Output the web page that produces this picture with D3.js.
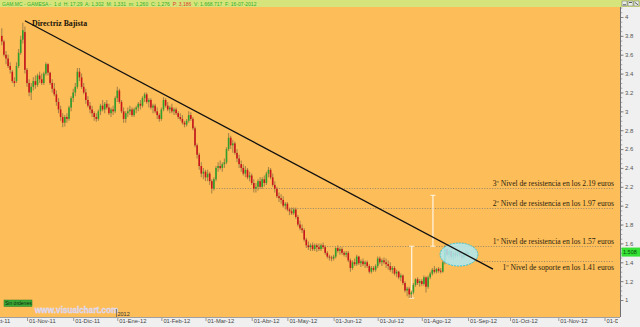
<!DOCTYPE html>
<html>
<head>
<meta charset="utf-8">
<script src="https://cdn.jsdelivr.net/npm/d3@7"></script>
<style>
body{margin:0;background:#fff;}
svg{display:block;}
</style>
</head>
<body>
<svg id="chart" width="640" height="327"></svg>
<script>
// bar index 0 = first trading day of Oct-11, one index per session
var barStart = 9;

var opens = [
3.80,3.74,3.60,3.56,3.48,3.42,3.32,3.32,3.48,3.62,
3.76,3.84,3.44,3.30,3.20,3.26,3.32,3.28,3.38,3.34,
3.30,3.40,3.50,3.41,3.30,3.24,3.18,3.10,3.02,2.94,
2.88,2.94,2.92,3.04,3.14,3.20,3.26,3.42,3.36,3.26,
3.20,3.12,3.06,3.02,2.98,2.94,2.92,3.00,3.06,3.02,
3.08,3.04,2.98,3.02,3.00,3.14,3.22,3.10,3.00,2.92,
2.98,3.00,3.02,2.96,3.02,3.04,3.08,3.06,3.14,3.18,
3.10,3.12,3.04,3.06,3.00,2.96,2.92,3.02,3.12,3.06,
3.02,3.04,3.00,3.02,2.98,2.94,2.92,2.88,2.86,2.90,
2.96,2.92,2.82,2.64,2.54,2.42,2.34,2.36,2.30,2.34,
2.26,2.18,2.28,2.40,2.42,2.40,2.44,2.46,2.60,2.72,
2.64,2.66,2.56,2.50,2.44,2.40,2.34,2.38,2.30,2.32,
2.24,2.18,2.20,2.26,2.20,2.28,2.24,2.34,2.38,2.30,
2.22,2.18,2.10,2.08,2.06,2.00,2.02,1.96,1.94,1.92,
1.96,1.88,1.80,1.76,1.74,1.64,1.58,1.56,1.58,1.54,
1.58,1.56,1.54,1.58,1.56,1.50,1.46,1.45,1.44,1.46,
1.55,1.52,1.54,1.50,1.48,1.50,1.42,1.34,1.40,1.38,
1.46,1.39,1.41,1.38,1.40,1.36,1.30,1.34,1.32,1.36,
1.44,1.40,1.42,1.40,1.38,1.36,1.32,1.34,1.28,1.30,
1.24,1.26,1.18,1.10,1.12,1.06,1.08,1.16,1.22,1.18,
1.20,1.17,1.24,1.14,1.24,1.28,1.32,1.30,1.33,1.31,
1.30,1.40,1.54,1.48,1.52,1.46,1.50,1.47,1.51,1.48,
1.45,1.50,1.49];

var highs = [
3.88,3.76,3.64,3.60,3.52,3.44,3.36,3.52,3.66,3.80,
3.94,3.90,3.46,3.34,3.30,3.36,3.38,3.40,3.42,3.40,
3.42,3.52,3.51,3.42,3.34,3.30,3.22,3.14,3.06,2.98,
2.96,2.98,3.06,3.16,3.24,3.30,3.46,3.46,3.40,3.30,
3.24,3.16,3.10,3.06,3.00,2.98,3.02,3.08,3.12,3.10,
3.12,3.08,3.04,3.06,3.16,3.26,3.24,3.12,3.04,3.00,
3.04,3.06,3.04,3.04,3.06,3.10,3.12,3.16,3.20,3.20,
3.14,3.14,3.08,3.08,3.04,2.98,3.04,3.15,3.14,3.10,
3.06,3.08,3.04,3.04,3.00,2.98,2.96,2.90,2.92,3.00,
2.99,2.94,2.84,2.66,2.56,2.46,2.40,2.38,2.38,2.36,
2.28,2.30,2.42,2.46,2.48,2.46,2.50,2.62,2.77,2.74,
2.70,2.68,2.60,2.54,2.48,2.44,2.42,2.40,2.36,2.34,
2.28,2.24,2.28,2.30,2.30,2.32,2.36,2.41,2.40,2.34,
2.26,2.20,2.14,2.12,2.10,2.04,2.04,1.98,1.98,1.98,
1.98,1.90,1.84,1.80,1.76,1.66,1.62,1.60,1.61,1.60,
1.60,1.60,1.60,1.61,1.58,1.52,1.48,1.47,1.48,1.56,
1.58,1.56,1.56,1.52,1.52,1.52,1.44,1.42,1.44,1.48,
1.47,1.43,1.44,1.42,1.42,1.38,1.36,1.36,1.38,1.46,
1.46,1.44,1.45,1.44,1.42,1.40,1.36,1.36,1.32,1.31,
1.28,1.27,1.20,1.14,1.14,1.10,1.18,1.23,1.24,1.22,
1.22,1.26,1.25,1.26,1.30,1.34,1.36,1.34,1.35,1.34,
1.42,1.58,1.58,1.56,1.55,1.52,1.53,1.52,1.54,1.52,
1.51,1.53,1.52];

var lows = [
3.70,3.58,3.50,3.46,3.40,3.30,3.26,3.30,3.46,3.60,
3.72,3.40,3.26,3.16,3.12,3.22,3.24,3.26,3.30,3.28,
3.28,3.38,3.38,3.28,3.20,3.16,3.06,2.98,2.90,2.83,
2.84,2.88,2.90,3.00,3.10,3.16,3.24,3.32,3.24,3.18,
3.08,3.04,2.98,2.94,2.90,2.89,2.90,2.96,3.00,2.98,
3.02,2.96,2.94,2.96,2.98,3.10,3.08,2.98,2.88,2.88,
2.94,2.96,2.94,2.94,2.98,3.00,3.02,3.04,3.10,3.08,
3.04,3.02,2.98,2.98,2.92,2.89,2.90,3.00,3.04,3.00,
2.98,2.98,2.96,2.96,2.92,2.90,2.86,2.83,2.84,2.88,
2.90,2.80,2.62,2.50,2.38,2.30,2.28,2.26,2.26,2.22,
2.13,2.16,2.26,2.36,2.38,2.36,2.40,2.44,2.58,2.60,
2.56,2.54,2.46,2.40,2.36,2.32,2.30,2.28,2.26,2.22,
2.14,2.14,2.16,2.18,2.18,2.20,2.22,2.30,2.28,2.20,
2.14,2.08,2.04,2.02,1.98,1.96,1.94,1.90,1.90,1.90,
1.86,1.78,1.74,1.71,1.62,1.55,1.53,1.52,1.52,1.52,
1.51,1.52,1.52,1.54,1.48,1.44,1.42,1.41,1.42,1.44,
1.50,1.48,1.48,1.46,1.45,1.40,1.30,1.32,1.36,1.36,
1.37,1.35,1.36,1.34,1.34,1.28,1.28,1.30,1.30,1.34,
1.38,1.36,1.38,1.34,1.32,1.30,1.28,1.26,1.24,1.22,
1.20,1.16,1.08,1.04,1.02,1.02,1.06,1.14,1.16,1.14,
1.15,1.15,1.08,1.12,1.22,1.26,1.28,1.28,1.29,1.28,
1.29,1.38,1.46,1.44,1.44,1.43,1.44,1.45,1.46,1.43,
1.44,1.46,1.47];

var closes = [
3.74,3.60,3.56,3.48,3.44,3.32,3.30,3.48,3.62,3.76,
3.86,3.44,3.30,3.20,3.26,3.32,3.28,3.38,3.34,3.30,
3.40,3.50,3.41,3.30,3.24,3.18,3.10,3.02,2.94,2.88,
2.94,2.92,3.04,3.14,3.20,3.26,3.42,3.36,3.26,3.20,
3.12,3.06,3.02,2.98,2.94,2.92,3.00,3.06,3.02,3.08,
3.04,2.98,3.02,3.00,3.14,3.22,3.10,3.00,2.92,2.98,
3.00,3.02,2.96,3.02,3.04,3.08,3.06,3.14,3.18,3.10,
3.12,3.04,3.06,3.00,2.96,2.92,3.02,3.12,3.06,3.02,
3.04,3.00,3.02,2.98,2.94,2.92,2.88,2.86,2.90,2.96,
2.92,2.82,2.64,2.54,2.42,2.34,2.36,2.30,2.34,2.26,
2.18,2.28,2.40,2.42,2.40,2.44,2.46,2.60,2.72,2.64,
2.66,2.56,2.50,2.44,2.40,2.34,2.38,2.30,2.32,2.24,
2.18,2.20,2.26,2.20,2.28,2.24,2.34,2.38,2.30,2.22,
2.18,2.10,2.08,2.06,2.00,2.02,1.96,1.94,1.92,1.96,
1.88,1.80,1.76,1.74,1.64,1.58,1.56,1.58,1.54,1.58,
1.56,1.54,1.58,1.56,1.50,1.46,1.45,1.44,1.46,1.55,
1.52,1.54,1.50,1.48,1.50,1.42,1.34,1.40,1.38,1.46,
1.39,1.41,1.38,1.40,1.36,1.30,1.34,1.32,1.36,1.44,
1.40,1.42,1.40,1.38,1.36,1.32,1.34,1.28,1.30,1.24,
1.26,1.18,1.10,1.12,1.06,1.08,1.16,1.22,1.18,1.20,
1.17,1.24,1.14,1.24,1.28,1.32,1.30,1.33,1.31,1.30,
1.40,1.54,1.48,1.52,1.46,1.50,1.47,1.51,1.48,1.45,
1.50,1.49,1.508];

var monthIdx = [0,21,43,64,85,106,128,145,167,188,209,231,251,274,296];
var monthLabels = ["01-Oct-11","01-Nov-11","01-Dic-11","01-Ene-12","01-Feb-12","01-Mar-12",
  "01-Abr-12","01-May-12","01-Jun-12","01-Jul-12","01-Ago-12","01-Sep-12","01-Oct-12","01-Nov-12","01-Dic-12"];
var yTicks = [1,1.2,1.4,1.6,1.8,2,2.2,2.4,2.6,2.8,3,3.2,3.4,3.6,3.8,4];

// directriz bajista
var trendIdx = [20, 242.9];
var trendVal = [3.96, 1.328];

// niveles
var levelVals = [2.19, 1.97, 1.57, 1.41];
var levelStart = [110, 146, 154, 235];
var levelEnd = 300;
var levelText = ["3º Nivel de resistencia en los 2.19 euros",
  "2º Nivel de resistencia en los 1.97 euros",
  "1º Nivel de resistencia en los 1.57 euros",
  "1º Nivel de soporte en los 1.41 euros"];
var levelAbove = [true, true, true, false];

// white measuring lines
var measureIdx = [204.2, 214.3];
var measureLow = [1.02, 1.57];
var measureHigh = [1.57, 2.11];

// consolidation ellipse (centre index, centre price, half widths)
var zoneIdx = 226.7, zoneVal = 1.482, zoneDi = 9, zoneDv = 0.122;

var W = 640, H = 327;
var plotRight = 620, plotTop = 7, plotBottom = 317;

var svg = d3.select("#chart");
var xScale = d3.scaleLinear().domain([0, 100]).range([-17.1, 192.9]);
var yScale = d3.scaleLinear().domain([1, 4]).range([300, 17]);

// background
svg.append("rect").attr("x",0).attr("y",0).attr("width",W).attr("height",H).attr("fill","#f0f0f0");
svg.append("rect").attr("x",0).attr("y",plotTop).attr("width",plotRight).attr("height",plotBottom-plotTop)
  .attr("fill","#fdbd58");

svg.append("defs").append("clipPath").attr("id","plotClip")
  .append("rect").attr("x",0).attr("y",plotTop).attr("width",plotRight).attr("height",plotBottom-plotTop);

var plot = svg.append("g").attr("clip-path","url(#plotClip)");

// dotted levels + texts
levelVals.forEach(function(v, k){
  var y = Math.round(yScale(v)) + 0.5;
  plot.append("line")
    .attr("x1", xScale(levelStart[k])).attr("x2", xScale(levelEnd))
    .attr("y1", y).attr("y2", y)
    .attr("stroke","#8c7f6c").attr("stroke-width",0.9)
    .attr("stroke-dasharray","1,1.6");
  plot.append("text")
    .attr("x", 614)
    .attr("y", levelAbove[k] ? y - 3 : y + 8)
    .attr("text-anchor","end")
    .attr("font-family","'Liberation Serif', 'DejaVu Serif', serif")
    .attr("font-size", 7.6)
    .attr("fill","#2b1d0e")
    .text(levelText[k]);
});

// white measuring lines
measureIdx.forEach(function(d, k){
  var x = xScale(d);
  var y1 = yScale(measureLow[k]), y2 = yScale(measureHigh[k]);
  plot.append("line").attr("x1",x).attr("x2",x).attr("y1",y1).attr("y2",y2)
    .attr("stroke","#fff6e6").attr("stroke-width",1.2);
  plot.append("line").attr("x1",x-2.5).attr("x2",x+2.5).attr("y1",y2).attr("y2",y2)
    .attr("stroke","#fff6e6").attr("stroke-width",1);
  plot.append("line").attr("x1",x-2.5).attr("x2",x+2.5).attr("y1",y1).attr("y2",y1)
    .attr("stroke","#fff6e6").attr("stroke-width",1);
});

// candles
var bars = d3.range(closes.length);
var candle = plot.selectAll("g.candle").data(bars).enter().append("g").attr("class","candle");
candle.append("line")
  .attr("x1", function(k){ return xScale(barStart + k); })
  .attr("x2", function(k){ return xScale(barStart + k); })
  .attr("y1", function(k){ return yScale(highs[k]); })
  .attr("y2", function(k){ return yScale(lows[k]); })
  .attr("stroke","#a8844a").attr("stroke-width",1.1);
candle.append("rect")
  .attr("x", function(k){ return xScale(barStart + k) - 0.8; })
  .attr("width", 1.6)
  .attr("y", function(k){ return yScale(Math.max(opens[k], closes[k])); })
  .attr("height", function(k){ return Math.max(0.8, Math.abs(yScale(opens[k]) - yScale(closes[k]))); })
  .attr("fill", function(k){ return closes[k] >= opens[k] ? "#2f9e2a" : "#c8141a"; });

// ellipse over the consolidation
plot.append("ellipse")
  .attr("cx", xScale(zoneIdx)).attr("cy", yScale(zoneVal))
  .attr("rx", xScale(zoneIdx + zoneDi) - xScale(zoneIdx))
  .attr("ry", yScale(zoneVal - zoneDv) - yScale(zoneVal))
  .attr("fill","#aeeaf4").attr("fill-opacity",0.85)
  .attr("stroke","#38c4d8").attr("stroke-width",1).attr("stroke-dasharray","2,1");

// trend line
plot.append("line")
  .attr("x1", xScale(trendIdx[0])).attr("y1", yScale(trendVal[0]))
  .attr("x2", xScale(trendIdx[1])).attr("y2", yScale(trendVal[1]))
  .attr("stroke","#111").attr("stroke-width",1.3);

plot.append("text").attr("x",32).attr("y",26)
  .attr("font-family","'Liberation Serif', 'DejaVu Serif', serif")
  .attr("font-size",7.8).attr("font-weight","bold").attr("fill","#1a1408")
  .text("Directriz Bajista");

// bottom-left badges
svg.append("rect").attr("x",4).attr("y",300).attr("width",28).attr("height",6.5)
  .attr("fill","#3aac35").attr("stroke","#2a7a28").attr("stroke-width",0.5);
svg.append("text").attr("x",5).attr("y",305.3)
  .attr("font-family","'Liberation Sans', Arial, sans-serif").attr("font-size",5)
  .attr("fill","#102010").text("Sin órdenes");
svg.append("text").attr("x",35).attr("y",312.5)
  .attr("font-family","'Liberation Sans', Arial, sans-serif").attr("font-size",8.2)
  .attr("font-weight","bold").attr("fill","#c9c6ee").attr("stroke","#eee8f8").attr("stroke-width",0.3)
  .text("www.visualchart.com");
svg.append("line").attr("x1",116.5).attr("x2",116.5).attr("y1",309).attr("y2",318)
  .attr("stroke","#555").attr("stroke-width",0.7);
svg.append("text").attr("x",117.5).attr("y",315.5)
  .attr("font-family","'Liberation Sans', Arial, sans-serif").attr("font-size",5.5)
  .attr("fill","#333").text("2012");

// bottom axis
svg.append("defs").append("clipPath").attr("id","xClip")
  .append("rect").attr("x",0).attr("y",plotBottom).attr("width",618).attr("height",H-plotBottom);
var xAxis = d3.axisBottom(xScale).tickValues(monthIdx)
  .tickFormat(function(d, k){ return monthLabels[k]; })
  .tickSize(4).tickSizeOuter(0);
var gx = svg.append("g").attr("clip-path","url(#xClip)")
  .append("g").attr("transform","translate(0," + plotBottom + ")").call(xAxis);
gx.select(".domain").remove();
gx.selectAll(".tick line").attr("stroke","#777").attr("stroke-width",0.7);
gx.selectAll(".tick text").attr("text-anchor","start").attr("x",1.5).attr("y",2.2)
  .attr("font-family","'Liberation Sans', Arial, sans-serif").attr("font-size",5.8).attr("fill","#444");
svg.append("line").attr("x1",0).attr("x2",plotRight).attr("y1",plotBottom+0.5).attr("y2",plotBottom+0.5)
  .attr("stroke","#a0a0a0").attr("stroke-width",1);

// right axis
var yAxis = d3.axisRight(yScale).tickValues(yTicks).tickSize(3).tickSizeOuter(0)
  .tickFormat(function(d){ return d3.format("")(+d.toFixed(1)); });
var gy = svg.append("g").attr("transform","translate(" + (plotRight + 0.5) + ",0)").call(yAxis);
gy.select(".domain").remove();
gy.selectAll(".tick line").attr("stroke","#666").attr("stroke-width",0.7);
gy.selectAll(".tick text").attr("x",4.5)
  .attr("font-family","'Liberation Sans', Arial, sans-serif").attr("font-size",6).attr("fill","#555");
var yMinorAxis = d3.axisRight(yScale).tickValues(d3.range(1, 4.11, 0.05)).tickSize(1.8).tickFormat("");
var gy2 = svg.append("g").attr("transform","translate(" + (plotRight + 0.5) + ",0)").call(yMinorAxis);
gy2.select(".domain").remove();
gy2.selectAll(".tick line").attr("stroke","#777").attr("stroke-width",0.6);
svg.append("line").attr("x1",plotRight+0.5).attr("x2",plotRight+0.5).attr("y1",plotTop).attr("y2",plotBottom)
  .attr("stroke","#707070").attr("stroke-width",1);

// last price box
var lastClose = closes[closes.length - 1];
svg.append("rect").attr("x",621.5).attr("y",yScale(lastClose) - 4.5).attr("width",18.5).attr("height",9)
  .attr("fill","#33e033");
svg.append("text").attr("x",623).attr("y",yScale(lastClose) + 2)
  .attr("font-family","'Liberation Sans', Arial, sans-serif").attr("font-size",5.5)
  .attr("fill","#0a4a0a").text(d3.format(".3f")(lastClose));

// header bar
svg.append("rect").attr("x",0).attr("y",0).attr("width",W).attr("height",plotTop).attr("fill","#d5e57b");
var head = svg.append("text").attr("x",2).attr("y",5.6)
  .attr("font-family","'Liberation Sans', Arial, sans-serif").attr("font-size",5)
  .attr("fill","#2fae2f").attr("xml:space","preserve");
head.append("tspan").text("GAM.MC - GAMESA -  1 d  H: 17:29  A: 1,302  M: 1,331  m: 1,260  C: 1,276  ");
head.append("tspan").attr("fill","#e03a2a").text("P: 3,186");
head.append("tspan").text("  V: 1.668.717  F: 16-07-2012");

// window buttons
[622, 628, 634].forEach(function(x, k){
  svg.append("rect").attr("x",x).attr("y",1).attr("width",5).attr("height",5)
    .attr("fill","#e8eee0").attr("stroke","#667").attr("stroke-width",0.5);
  svg.append("line").attr("x1",x+1).attr("x2",x+4)
    .attr("y1", k == 0 ? 4.8 : 2.5).attr("y2", k == 2 ? 4.8 : (k == 0 ? 4.8 : 2.5))
    .attr("stroke","#334").attr("stroke-width",0.8);
});
</script>
</body>
</html>
